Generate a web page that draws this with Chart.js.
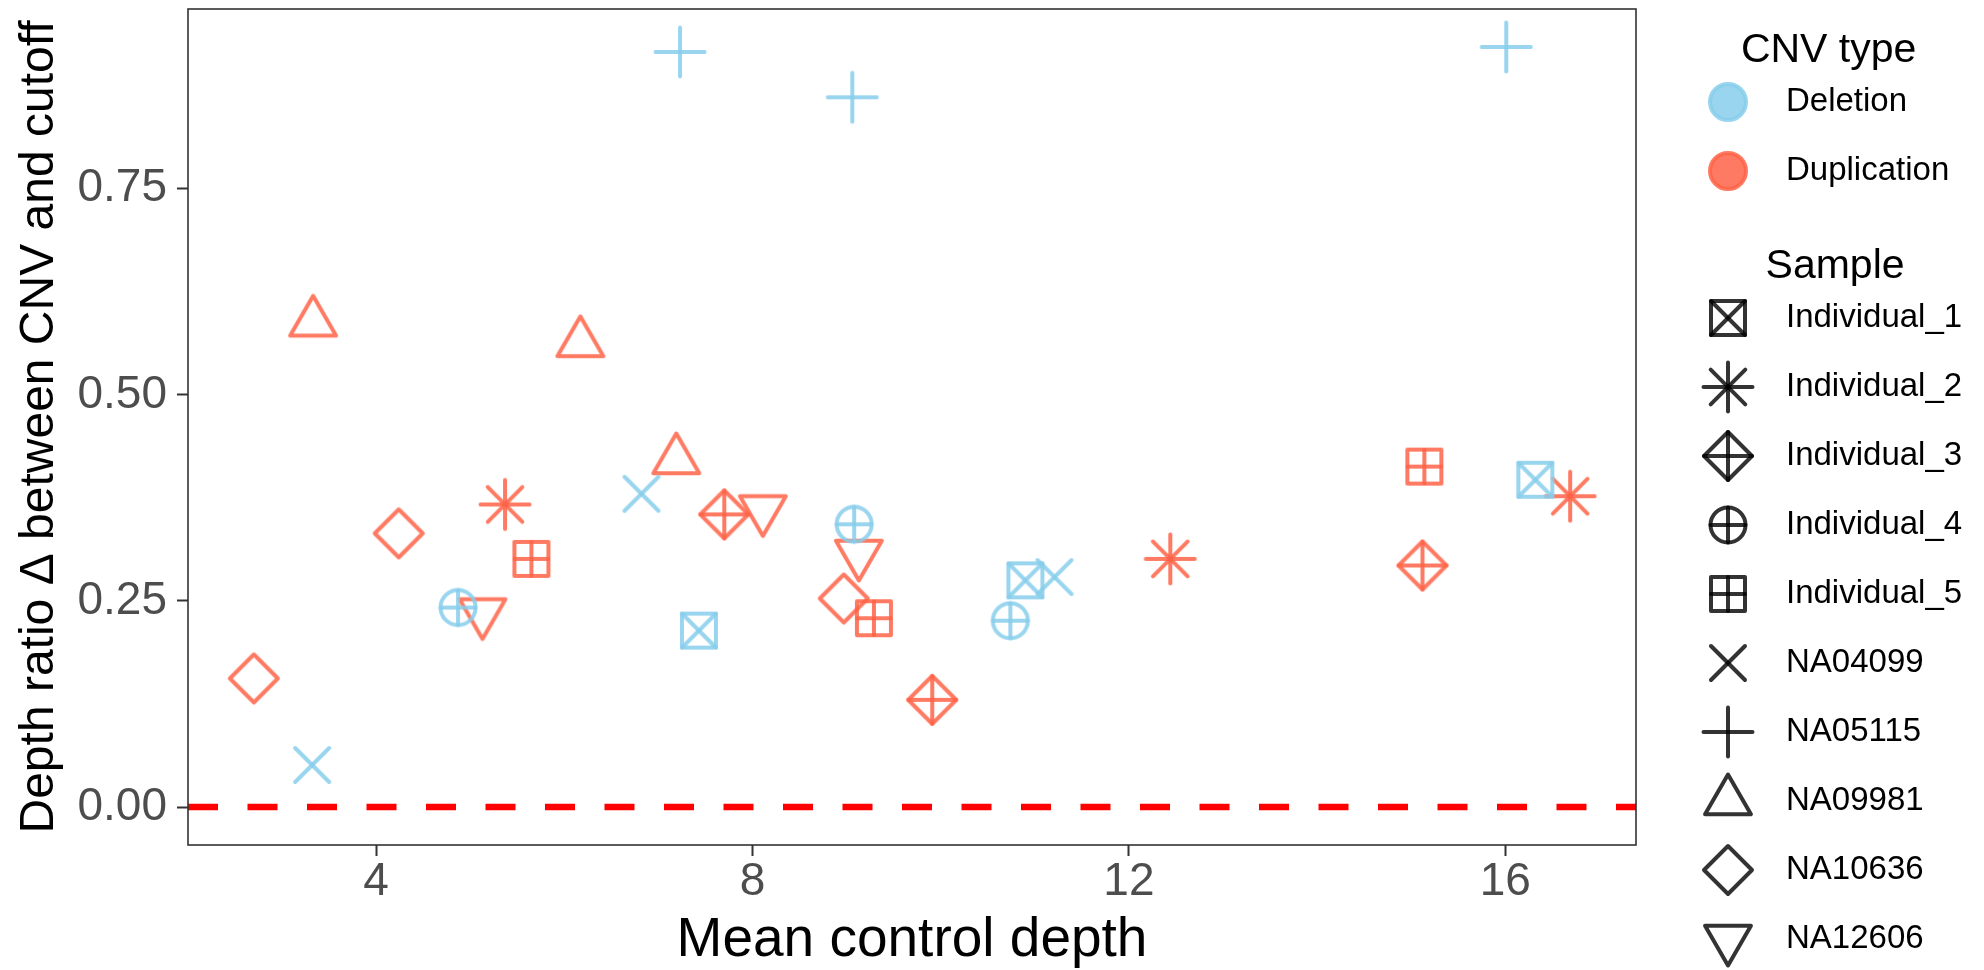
<!DOCTYPE html>
<html>
<head>
<meta charset="utf-8">
<title>CNV depth ratio</title>
<script src="https://cdn.jsdelivr.net/npm/chart.js@4.4.1/dist/chart.umd.min.js"></script>
<style>
    html, body { margin: 0; padding: 0; background: #ffffff; }
    #wrap { width: 1984px; height: 970px; position: relative; }
</style>
</head>
<body>
<div id="wrap"><canvas id="cnvChart"></canvas></div>
<script>
// --- data ---
const cnvTypes = ['Deletion', 'Duplication'];
const sampleNames = ['Individual_1', 'Individual_2', 'Individual_3', 'Individual_4', 'Individual_5',
    'NA04099', 'NA05115', 'NA09981', 'NA10636', 'NA12606'];

const pointSample = [
    'Individual_1', 'Individual_1', 'Individual_1',
    'Individual_4', 'Individual_4', 'Individual_4',
    'NA04099', 'NA04099', 'NA04099',
    'NA05115', 'NA05115', 'NA05115',
    'Individual_2', 'Individual_2', 'Individual_2',
    'Individual_3', 'Individual_3', 'Individual_3',
    'Individual_5', 'Individual_5', 'Individual_5',
    'NA09981', 'NA09981', 'NA09981',
    'NA10636', 'NA10636', 'NA10636',
    'NA12606', 'NA12606', 'NA12606'
];
const pointType = [
    'Deletion', 'Deletion', 'Deletion',
    'Deletion', 'Deletion', 'Deletion',
    'Deletion', 'Deletion', 'Deletion',
    'Deletion', 'Deletion', 'Deletion',
    'Duplication', 'Duplication', 'Duplication',
    'Duplication', 'Duplication', 'Duplication',
    'Duplication', 'Duplication', 'Duplication',
    'Duplication', 'Duplication', 'Duplication',
    'Duplication', 'Duplication', 'Duplication',
    'Duplication', 'Duplication', 'Duplication'
];
const meanControlDepth = [
    7.43, 10.90, 16.32,
    4.87, 9.08, 10.74,
    3.32, 6.82, 11.21,
    7.23, 9.06, 16.01,
    5.37, 12.44, 16.69,
    7.70, 9.91, 15.12,
    5.65, 9.29, 15.14,
    3.33, 6.17, 7.19,
    2.70, 4.24, 8.97,
    5.13, 8.11, 9.13
];
const depthRatioDelta = [
    0.214, 0.275, 0.397,
    0.242, 0.343, 0.226,
    0.051, 0.380, 0.279,
    0.916, 0.861, 0.922,
    0.367, 0.301, 0.377,
    0.355, 0.130, 0.293,
    0.301, 0.229, 0.413,
    0.588, 0.563, 0.421,
    0.156, 0.332, 0.253,
    0.236, 0.361, 0.307
];
const cutoff = 0;
const xTicks = [4, 8, 12, 16];
const yTicks = [0, 0.25, 0.5, 0.75];

// --- styles ---
const typeColors = {
    Deletion: 'rgba(135, 206, 235, 0.85)',
    Duplication: 'rgba(255, 99, 71, 0.85)'
};
const sampleShapes = {
    Individual_1: 'squareCross',
    Individual_2: 'asterisk',
    Individual_3: 'diamondPlus',
    Individual_4: 'circlePlus',
    Individual_5: 'squarePlus',
    NA04099: 'cross',
    NA05115: 'plus',
    NA09981: 'triangleUp',
    NA10636: 'diamond',
    NA12606: 'triangleDown'
};
const FONT = "'Liberation Sans', Arial, Helvetica, sans-serif";
Chart.defaults.font.family = FONT;

// R-like point symbols, every stroke drawn separately so overlaps get darker
function drawShape(ctx, shape, cx, cy, color) {
    const sq = 17, ci = 17.5, dm = 24, pl = 24.5, xx = 17.3, tr = 26.5;
    ctx.save();
    ctx.strokeStyle = color;
    ctx.lineWidth = 4;
    ctx.lineCap = 'round';
    ctx.lineJoin = 'round';
    const line = (x1, y1, x2, y2) => {
        ctx.beginPath();
        ctx.moveTo(cx + x1, cy + y1);
        ctx.lineTo(cx + x2, cy + y2);
        ctx.stroke();
    };
    const poly = pts => {
        ctx.beginPath();
        pts.forEach(([x, y], i) => i ? ctx.lineTo(cx + x, cy + y) : ctx.moveTo(cx + x, cy + y));
        ctx.closePath();
        ctx.stroke();
    };
    const square = [[-sq, -sq], [sq, -sq], [sq, sq], [-sq, sq]];
    const diamond = [[0, -dm], [dm, 0], [0, dm], [-dm, 0]];
    switch (shape) {
        case 'squareCross':
            poly(square); line(-sq, -sq, sq, sq); line(-sq, sq, sq, -sq);
            break;
        case 'asterisk':
            line(-pl, 0, pl, 0); line(0, -pl, 0, pl);
            line(-xx, -xx, xx, xx); line(-xx, xx, xx, -xx);
            break;
        case 'diamondPlus':
            poly(diamond); line(-dm, 0, dm, 0); line(0, -dm, 0, dm);
            break;
        case 'circlePlus':
            ctx.beginPath(); ctx.arc(cx, cy, ci, 0, Math.PI * 2); ctx.stroke();
            line(-ci, 0, ci, 0); line(0, -ci, 0, ci);
            break;
        case 'squarePlus':
            poly(square); line(-sq, 0, sq, 0); line(0, -sq, 0, sq);
            break;
        case 'cross':
            line(-17, -17, 17, 17); line(-17, 17, 17, -17);
            break;
        case 'plus':
            line(-pl, 0, pl, 0); line(0, -pl, 0, pl);
            break;
        case 'triangleUp':
            poly([[0, -tr], [tr * 0.866, tr * 0.5], [-tr * 0.866, tr * 0.5]]);
            break;
        case 'diamond':
            poly(diamond);
            break;
        case 'triangleDown':
            poly([[0, tr], [tr * 0.866, -tr * 0.5], [-tr * 0.866, -tr * 0.5]]);
            break;
    }
    ctx.restore();
}

function makeIcon(shape, color) {
    const c = document.createElement('canvas');
    c.width = 64;
    c.height = 64;
    drawShape(c.getContext('2d'), shape, 32, 32, color);
    return c;
}

const icons = {};
sampleNames.forEach(name => {
    icons[name] = {};
    cnvTypes.forEach(t => { icons[name][t] = makeIcon(sampleShapes[name], typeColors[t]); });
});

// ggplot-style 5% expansion
function padRange(vals) {
    const lo = Math.min(...vals), hi = Math.max(...vals);
    const d = (hi - lo) * 0.05;
    return [lo - d, hi + d];
}
const xExtent = padRange(meanControlDepth);
const yExtent = padRange(depthRatioDelta.concat([cutoff]));

const datasets = sampleNames.map(name => {
    const idx = pointSample.map((s, i) => s === name ? i : -1).filter(i => i >= 0);
    return {
        type: 'scatter',
        label: name,
        data: idx.map(i => ({ x: meanControlDepth[i], y: depthRatioDelta[i] })),
        pointStyle: idx.map(i => icons[name][pointType[i]]),
        pointRadius: 20,
        showLine: false
    };
});
datasets.push({
    type: 'line',
    label: 'cutoff',
    data: [{ x: xExtent[0], y: cutoff }, { x: xExtent[1], y: cutoff }],
    borderColor: '#ff0000',
    borderWidth: 6.5,
    borderDash: [30, 29.5],
    borderCapStyle: 'butt',
    pointRadius: 0,
    fill: false
});

const panelBorder = {
    id: 'panelBorder',
    afterDatasetsDraw(chart) {
        const { ctx, chartArea: a } = chart;
        ctx.save();
        ctx.strokeStyle = '#333333';
        ctx.lineWidth = 1.6;
        ctx.strokeRect(a.left, a.top, a.right - a.left, a.bottom - a.top);
        ctx.restore();
    }
};

const sideLegend = {
    id: 'sideLegend',
    afterDraw(chart) {
        const ctx = chart.ctx;
        const keyX = chart.chartArea.right + 92;
        const textX = keyX + 58;
        const step = 69;
        const groups = [
            { title: 'CNV type', labels: cnvTypes, titleBase: 62, firstY: 102 },
            { title: 'Sample', labels: sampleNames, titleBase: 278, firstY: 318 }
        ];
        ctx.save();
        groups.forEach(g => {
            ctx.font = '33px ' + FONT;
            const widest = Math.max(...g.labels.map(l => ctx.measureText(l).width));
            const center = (keyX - 20 + textX + widest) / 2;
            ctx.fillStyle = '#000000';
            ctx.textAlign = 'center';
            ctx.textBaseline = 'alphabetic';
            ctx.font = '41px ' + FONT;
            ctx.fillText(g.title, center, g.titleBase);

            g.labels.forEach((label, i) => {
                const y = g.firstY + i * step;
                if (g.title === 'CNV type') {
                    ctx.beginPath();
                    ctx.arc(keyX, y, 18, 0, Math.PI * 2);
                    ctx.fillStyle = typeColors[label];
                    ctx.fill();
                    ctx.lineWidth = 4;
                    ctx.strokeStyle = typeColors[label];
                    ctx.stroke();
                } else {
                    drawShape(ctx, sampleShapes[label], keyX, y, 'rgba(0, 0, 0, 0.8)');
                }
                ctx.fillStyle = '#000000';
                ctx.textAlign = 'left';
                ctx.textBaseline = 'middle';
                ctx.font = '33px ' + FONT;
                ctx.fillText(label, textX, y);
            });
        });
        ctx.restore();
    }
};

const ctx = document.getElementById('cnvChart').getContext('2d');
const cnvChart = new Chart(ctx, {
    type: 'scatter',
    data: { datasets },
    options: {
        responsive: true,
        maintainAspectRatio: false,
        devicePixelRatio: 1,
        animation: false,
        events: [],
        layout: { autoPadding: false, padding: { left: 0, right: 348, top: 9, bottom: 0 } },
        plugins: {
            legend: { display: false },
            tooltip: { enabled: false }
        },
        scales: {
            x: {
                type: 'linear',
                position: 'bottom',
                min: xExtent[0],
                max: xExtent[1],
                afterBuildTicks: s => { s.ticks = xTicks.map(v => ({ value: v })); },
                afterFit: s => { s.height = 125; s.paddingLeft = 0; s.paddingRight = 0; },
                ticks: {
                    font: { size: 46, lineHeight: 1 },
                    color: '#4d4d4d',
                    padding: 3,
                    maxRotation: 0,
                    autoSkip: false,
                    callback: v => String(v)
                },
                grid: { display: true, drawOnChartArea: false, drawTicks: true, tickLength: 11, tickWidth: 2, tickColor: '#333333' },
                border: { display: false },
                title: {
                    display: true,
                    text: 'Mean control depth',
                    font: { size: 55, lineHeight: 1 },
                    color: '#000000',
                    padding: { top: 0, bottom: 1.5 }
                }
            },
            y: {
                type: 'linear',
                min: yExtent[0],
                max: yExtent[1],
                afterBuildTicks: s => { s.ticks = yTicks.map(v => ({ value: v })); },
                afterFit: s => { s.width = 188; s.paddingTop = 0; s.paddingBottom = 0; },
                ticks: {
                    font: { size: 46, lineHeight: 1 },
                    color: '#4d4d4d',
                    padding: 10,
                    autoSkip: false,
                    callback: v => v.toFixed(2)
                },
                grid: { display: true, drawOnChartArea: false, drawTicks: true, tickLength: 11, tickWidth: 2, tickColor: '#333333' },
                border: { display: false },
                title: {
                    display: true,
                    text: 'Depth ratio \u0394 between CNV and cutoff',
                    font: { size: 48, lineHeight: 1 },
                    color: '#000000',
                    padding: { top: 16, bottom: 0 }
                }
            }
        }
    },
    plugins: [panelBorder, sideLegend]
});
</script>
</body>
</html>
